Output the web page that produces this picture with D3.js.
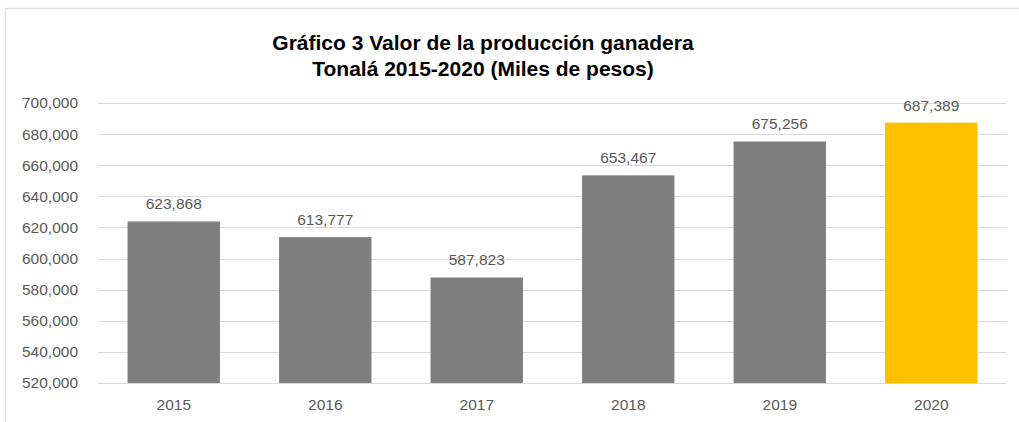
<!DOCTYPE html>
<meta charset="UTF-8">
<style>
    body { margin: 0; background: #fff; }
    svg { display: block; font-family: "Liberation Sans", Arial, sans-serif; }
    .grid line { stroke: #d9d9d9; stroke-width: 1px; }
    .axis text { fill: #595959; font-size: 15.5px; }
    .label { fill: #595959; font-size: 15.5px; text-anchor: middle; }
    .title { fill: #000; font-size: 21px; font-weight: bold; text-anchor: middle; }
</style>
<body>
<script src="https://d3js.org/d3.v7.min.js"></script>
<script>

    // data
    var years = ["2015", "2016", "2017", "2018", "2019", "2020"];
    var values = [623868, 613777, 587823, 653467, 675256, 687389];
    var yTicks = [520000, 540000, 560000, 580000, 600000, 620000, 640000, 660000, 680000, 700000];
    var titleLines = ["Gráfico 3 Valor de la producción ganadera", "Tonalá 2015-2020 (Miles de pesos)"];

    var W = 1019, H = 422;
    var margin = {top: 103, right: 12, bottom: 39, left: 98},
        width = W - margin.left - margin.right,
        height = H - margin.top - margin.bottom;

    var svg = d3.select("body").append("svg")
        .attr("width", W)
        .attr("height", H);

    // outer chart border
    svg.append("rect")
        .attr("x", 5.5).attr("y", 8.5)
        .attr("width", W + 10).attr("height", H + 10)
        .attr("fill", "none")
        .attr("stroke", "#e3e3e3")
        .attr("stroke-width", 1.5);

    // title
    svg.selectAll(".title")
        .data(titleLines)
        .enter().append("text")
        .attr("class", "title")
        .attr("x", 483)
        .attr("y", function(d, i) { return 50 + i * 26; })
        .text(function(d) { return d; });

    var g = svg.append("g")
        .attr("transform", "translate(" + margin.left + "," + margin.top + ")");

    var x = d3.scaleBand().domain(years).range([0, width]).paddingInner(0.39).paddingOuter(0.195);
    var y = d3.scaleLinear().domain([520000, 700000]).range([height, 0]);

    // gridlines
    g.append("g")
        .attr("class", "grid")
        .selectAll("line")
        .data(yTicks)
        .enter().append("line")
        .attr("x1", 0).attr("x2", width)
        .attr("y1", function(d) { return Math.round(y(d)) + 0.5; })
        .attr("y2", function(d) { return Math.round(y(d)) + 0.5; });

    // y axis labels
    var yAxis = g.append("g")
        .attr("class", "axis")
        .attr("transform", "translate(-17,0)")
        .call(d3.axisLeft(y).tickValues(yTicks).tickSize(0).tickFormat(d3.format(",")));
    yAxis.select(".domain").remove();

    // x axis labels
    var xAxis = g.append("g")
        .attr("class", "axis")
        .attr("transform", "translate(0," + height + ")")
        .call(d3.axisBottom(x).tickSize(0).tickPadding(16));
    xAxis.select(".domain").remove();

    // bars
    g.selectAll(".bar")
        .data(values)
        .enter().append("rect")
        .attr("class", "bar")
        .attr("x", function(d, i) { return x(years[i]); })
        .attr("width", x.bandwidth())
        .attr("y", function(d) { return y(d); })
        .attr("height", function(d) { return height - y(d); })
        .attr("fill", function(d, i) { return i === values.length - 1 ? "#ffc000" : "#7f7f7f"; });

    // value labels
    g.selectAll(".label")
        .data(values)
        .enter().append("text")
        .attr("class", "label")
        .attr("x", function(d, i) { return x(years[i]) + x.bandwidth() / 2; })
        .attr("y", function(d) { return y(d) - 12; })
        .text(function(d) { return d3.format(",")(d); });

</script>
</body>
